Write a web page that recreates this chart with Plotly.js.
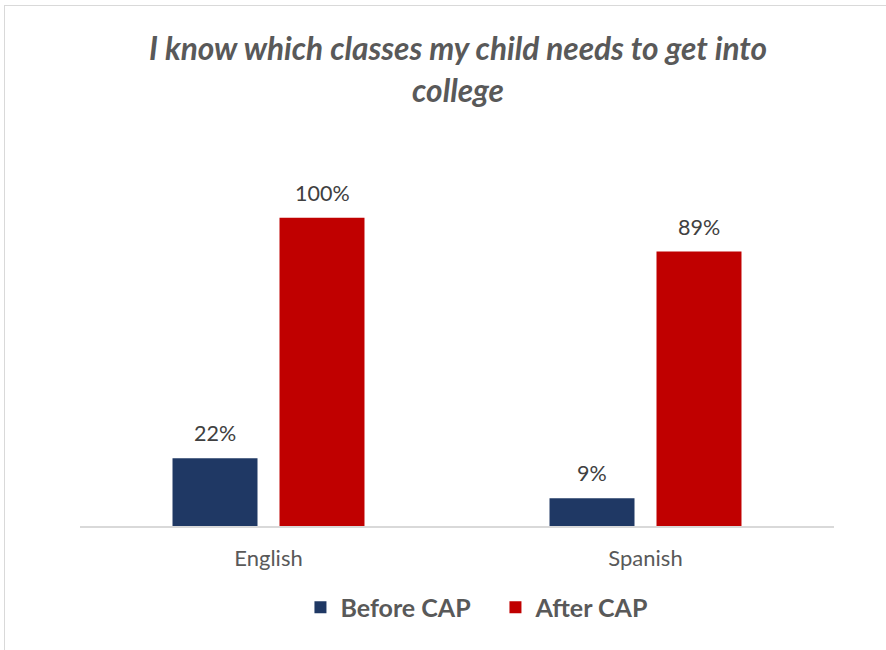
<!DOCTYPE html>
<html>
<head>
<meta charset="utf-8">
<script src="https://cdn.plot.ly/plotly-3.0.1.min.js"></script>
<style>
  html, body { margin: 0; padding: 0; background: #fff; }
  #chart { width: 886px; height: 650px; }
  #frame { position: absolute; left: 4px; top: 5px; width: 890px; height: 660px;
           border-top: 1.5px solid #d9d9d9; border-left: 1.5px solid #d9d9d9; pointer-events: none; }
</style>
</head>
<body>
<div id="chart"></div>
<div id="frame"></div>
<script>
const categories = ['English', 'Spanish'];
const seriesNames = ['Before CAP', 'After CAP'];
const beforeCAP = [0.22, 0.09];
const afterCAP = [1.00, 0.89];
const colors = ['#1f3864', '#c00000'];

const allSeries = [beforeCAP, afterCAP];

const traces = allSeries.map((vals, i) => ({
  type: 'bar',
  name: seriesNames[i],
  x: categories,
  y: vals,
  marker: { color: colors[i] },
  hoverinfo: 'skip'
}));

const offsets = [-0.1419, 0.1419];
const annotations = [];
allSeries.forEach((vals, i) => {
  vals.forEach((v, j) => {
    annotations.push({
      xref: 'x', yref: 'y',
      x: j + offsets[i], y: v,
      yshift: 25,
      text: Math.round(v * 100) + '%',
      showarrow: false,
      font: { family: 'Lato, "Open Sans", sans-serif', size: 21.5, color: '#404040' }
    });
  });
});

const layout = {
  width: 886, height: 650,
  margin: { l: 80, r: 52, t: 156, b: 124 },
  paper_bgcolor: '#ffffff', plot_bgcolor: '#ffffff',
  title: {
    text: '<b><i>I know which classes my child needs to get into<br>college</i></b>',
    x: 0.517, xanchor: 'center',
    y: 0.907, yanchor: 'middle',
    font: { family: 'Lato, "Open Sans", sans-serif', size: 31.6, color: '#595959' }
  },
  barmode: 'group',
  bargap: 0.4324,
  bargroupgap: 0.2056,
  xaxis: {
    showline: true, linecolor: '#d9d9d9', linewidth: 1.5,
    ticks: '', showgrid: false, zeroline: false,
    tickfont: { family: 'Lato, "Open Sans", sans-serif', size: 22, color: '#595959' },
    ticklabelstandoff: 12
  },
  yaxis: {
    range: [0, 1.2], visible: false, showgrid: false, zeroline: false, fixedrange: true
  },
  showlegend: true,
  legend: {
    orientation: 'h',
    x: 0.551, xanchor: 'center',
    y: -0.22, yanchor: 'middle',
    font: { family: 'Lato, "Open Sans", sans-serif', size: 25, color: '#595959', weight: 'bold' },
    itemwidth: 30,
    entrywidth: 150,
    traceorder: 'normal'
  },
  annotations: annotations
};

Plotly.newPlot('chart', traces, layout, { displayModeBar: false, staticPlot: true });
</script>
</body>
</html>
